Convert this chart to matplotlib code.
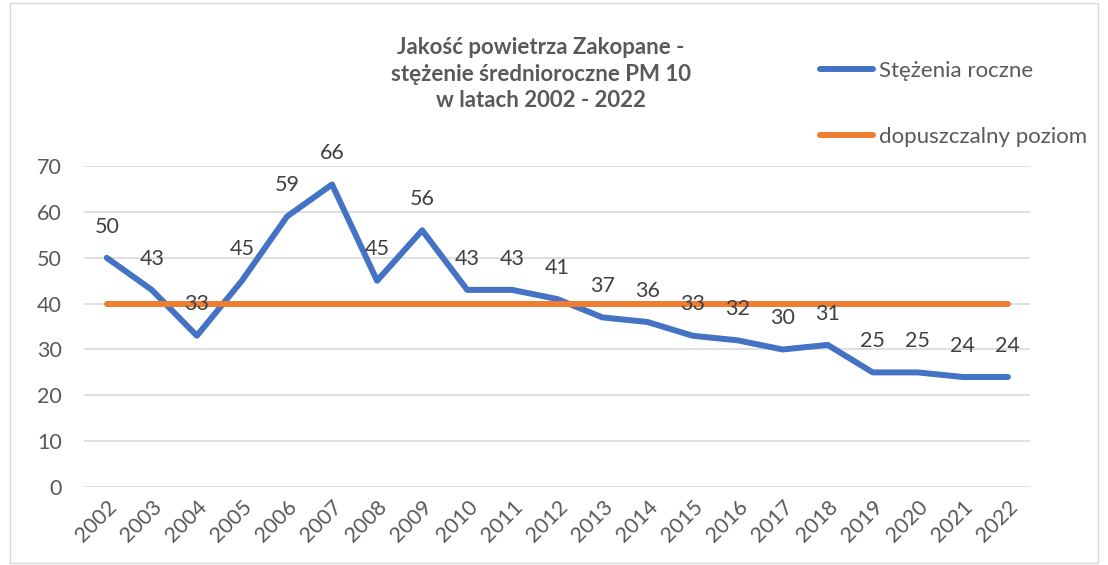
import matplotlib.pyplot as plt
from matplotlib.patches import Rectangle

years = [str(y) for y in range(2002, 2023)]
stezenia = [50, 43, 33, 45, 59, 66, 45, 56, 43, 43, 41, 37, 36, 33, 32, 30, 31, 25, 25, 24, 24]
dopuszczalny = [40] * len(years)

plt.rcParams['font.family'] = ['Lato', 'DejaVu Sans']
gray = '#595959'

fig = plt.figure(figsize=(11.08, 5.65), dpi=100)
ax = fig.add_axes([0.076, 0.138, 0.854, 0.568])

x = list(range(len(years)))
ax.plot(x, stezenia, color='#4472C4', lw=4.3, solid_capstyle='round',
        solid_joinstyle='round', label='Stężenia roczne', zorder=3)
ax.plot(x, dopuszczalny, color='#ED7D31', lw=4.3, solid_capstyle='round',
        label='dopuszczalny poziom', zorder=3)

for xi, v in zip(x, stezenia):
    ax.annotate(str(v), (xi, v), xytext=(0, 22.5), textcoords='offset points',
                ha='center', va='center', fontsize=15.5, color='#404040', zorder=4)

ax.set_xlim(-0.5, len(years) - 0.5)
ax.set_ylim(0, 70)
ax.set_yticks(range(0, 71, 10))
ax.set_xticks(x)
ax.set_xticklabels(years, rotation=45, ha='right', rotation_mode='anchor')
ax.tick_params(axis='both', length=0, labelsize=15.5, labelcolor=gray)
ax.tick_params(axis='y', pad=16)
ax.tick_params(axis='x', pad=7)
ax.grid(axis='y', color='#D9D9D9', lw=1.2)
ax.set_axisbelow(True)
for s in ax.spines.values():
    s.set_visible(False)

fig.text(0.488, 0.869, 'Jakość powietrza Zakopane -\nstężenie średnioroczne PM 10\nw latach 2002 - 2022',
         ha='center', va='center', fontsize=16, fontweight='bold', color=gray,
         linespacing=1.35)

fig.legend(loc='upper left', bbox_to_anchor=(0.74, 0.892), frameon=False,
           fontsize=16, labelcolor=gray, handlelength=2.4, handletextpad=0.25,
           labelspacing=2.05, borderpad=0, borderaxespad=0)

fig.patches.append(Rectangle((0.009, 0.004), 0.982, 0.99, transform=fig.transFigure,
                             fill=False, edgecolor='#D9D9D9', lw=1))

fig.savefig('out.png', dpi=100)
